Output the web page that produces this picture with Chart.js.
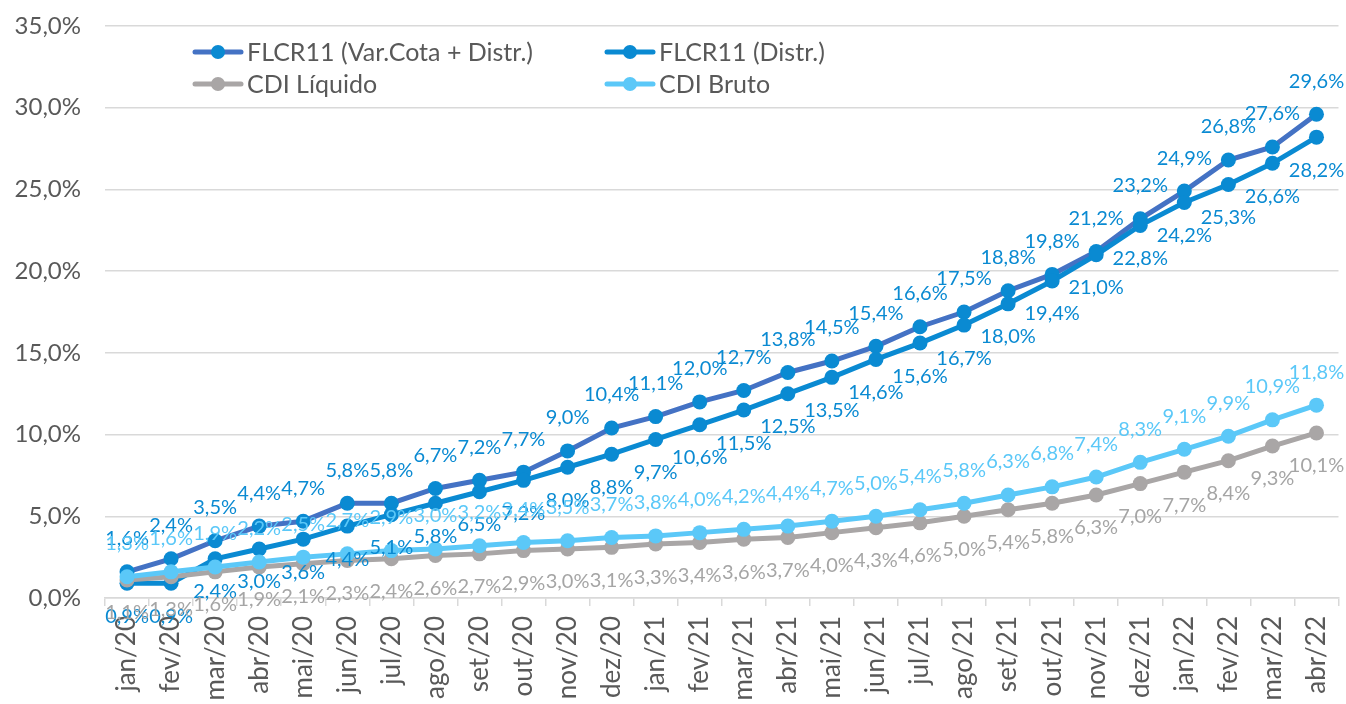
<!DOCTYPE html>
<html>
<head>
<meta charset="utf-8">
<script src="https://cdn.jsdelivr.net/npm/chart.js@4"></script>
<style>
  html, body { margin: 0; padding: 0; background: #fff; }
  #wrap { width: 1346px; height: 704px; position: relative; }
</style>
</head>
<body>
<div id="wrap"><canvas id="myCanvas" width="1346" height="704"></canvas></div>
<script>
// dados
const meses = ['jan/20','fev/20','mar/20','abr/20','mai/20','jun/20','jul/20','ago/20','set/20','out/20','nov/20','dez/20',
  'jan/21','fev/21','mar/21','abr/21','mai/21','jun/21','jul/21','ago/21','set/21','out/21','nov/21','dez/21',
  'jan/22','fev/22','mar/22','abr/22'];
const varCotaDistr = [1.6, 2.4, 3.5, 4.4, 4.7, 5.8, 5.8, 6.7, 7.2, 7.7, 9.0, 10.4, 11.1, 12.0, 12.7, 13.8, 14.5, 15.4, 16.6, 17.5, 18.8, 19.8, 21.2, 23.2, 24.9, 26.8, 27.6, 29.6];
const distr = [0.9, 0.9, 2.4, 3.0, 3.6, 4.4, 5.1, 5.8, 6.5, 7.2, 8.0, 8.8, 9.7, 10.6, 11.5, 12.5, 13.5, 14.6, 15.6, 16.7, 18.0, 19.4, 21.0, 22.8, 24.2, 25.3, 26.6, 28.2];
const cdiLiquido = [1.1, 1.3, 1.6, 1.9, 2.1, 2.3, 2.4, 2.6, 2.7, 2.9, 3.0, 3.1, 3.3, 3.4, 3.6, 3.7, 4.0, 4.3, 4.6, 5.0, 5.4, 5.8, 6.3, 7.0, 7.7, 8.4, 9.3, 10.1];
const cdiBruto = [1.3, 1.6, 1.9, 2.2, 2.5, 2.7, 2.9, 3.0, 3.2, 3.4, 3.5, 3.7, 3.8, 4.0, 4.2, 4.4, 4.7, 5.0, 5.4, 5.8, 6.3, 6.8, 7.4, 8.3, 9.1, 9.9, 10.9, 11.8];
const yTicks = [0, 5, 10, 15, 20, 25, 30, 35];

const FONT = 'Lato, "Liberation Sans", sans-serif';
const fmt = v => v.toFixed(1).replace('.', ',') + '%';

// rótulos de dados (acima / abaixo do ponto)
const rotulosPlugin = {
  id: 'rotulos',
  afterDatasetsDraw(chart) {
    const ctx = chart.ctx;
    ctx.save();
    ctx.font = '20px ' + FONT;
    ctx.textAlign = 'center';
    ctx.textBaseline = 'middle';
    chart.data.datasets.forEach((ds, i) => {
      const meta = chart.getDatasetMeta(i);
      ctx.fillStyle = ds.labelColor;
      meta.data.forEach((pt, j) => {
        const dy = ds.labelPos === 'above' ? -33 : 33;
        ctx.fillText(fmt(ds.data[j]), pt.x, pt.y + dy);
      });
    });
    ctx.restore();
  }
};

// legenda desenhada dentro da área do gráfico
const legendaPlugin = {
  id: 'legenda',
  afterDraw(chart) {
    const ctx = chart.ctx;
    const itens = [
      { ds: 0, x: 195, y: 52 },
      { ds: 1, x: 607, y: 52 },
      { ds: 2, x: 195, y: 84 },
      { ds: 3, x: 607, y: 84 }
    ];
    ctx.save();
    ctx.font = '25px ' + FONT;
    ctx.textBaseline = 'middle';
    itens.forEach(it => {
      const ds = chart.data.datasets[it.ds];
      ctx.strokeStyle = ds.borderColor;
      ctx.lineWidth = 5;
      ctx.lineCap = 'round';
      ctx.beginPath();
      ctx.moveTo(it.x, it.y);
      ctx.lineTo(it.x + 46, it.y);
      ctx.stroke();
      ctx.fillStyle = ds.pointBackgroundColor;
      ctx.beginPath();
      ctx.arc(it.x + 23, it.y, 7, 0, Math.PI * 2);
      ctx.fill();
      ctx.fillStyle = '#595959';
      ctx.fillText(ds.label, it.x + 52, it.y + 1);
    });
    ctx.restore();
  }
};

const serie = (label, data, line, point, labelColor, labelPos, order) => ({
  label, data, order,
  borderColor: line,
  backgroundColor: point,
  pointBackgroundColor: point,
  pointBorderColor: point,
  pointRadius: 7.5,
  pointBorderWidth: 0,
  borderWidth: 5,
  tension: 0,
  labelColor, labelPos
});

const canvas = document.getElementById('myCanvas');
new Chart(canvas, {
  type: 'line',
  data: {
    labels: meses,
    datasets: [
      serie('FLCR11 (Var.Cota + Distr.)', varCotaDistr, '#4472C4', '#0A8AD2', '#0A8AD2', 'above', 4),
      serie('FLCR11 (Distr.)', distr, '#0A8AD2', '#0A8AD2', '#0A8AD2', 'below', 3),
      serie('CDI Líquido', cdiLiquido, '#A9A6A6', '#A9A6A6', '#A5A5A5', 'below', 2),
      serie('CDI Bruto', cdiBruto, '#5BC8F8', '#5BC8F8', '#5BC8F8', 'above', 1)
    ]
  },
  options: {
    responsive: false,
    animation: false,
    layout: { padding: { top: 26, right: 7, left: 0, bottom: 0 } },
    plugins: {
      legend: { display: false },
      tooltip: { enabled: false }
    },
    scales: {
      x: {
        offset: true,
        grid: {
          offset: true,
          drawOnChartArea: false,
          drawTicks: true,
          tickLength: 8,
          color: '#D9D9D9',
          lineWidth: 1.5
        },
        border: { display: true, color: '#D9D9D9', width: 1.5 },
        ticks: {
          color: '#595959',
          font: { family: FONT, size: 26 },
          maxRotation: 90,
          minRotation: 90,
          autoSkip: false,
          padding: 10
        },
        afterFit: s => { s.height = 106; s.paddingLeft = 0; s.paddingRight = 0; }
      },
      y: {
        min: 0,
        max: 35,
        afterBuildTicks: s => { s.ticks = yTicks.map(v => ({ value: v })); },
        grid: { color: '#D9D9D9', lineWidth: 1.5, drawTicks: false },
        border: { display: false },
        ticks: {
          color: '#595959',
          font: { family: FONT, size: 24 },
          padding: 24,
          callback: v => fmt(v)
        },
        afterFit: s => { s.width = 105; s.paddingTop = 0; s.paddingBottom = 0; }
      }
    }
  },
  plugins: [rotulosPlugin, legendaPlugin]
});
</script>
</body>
</html>
